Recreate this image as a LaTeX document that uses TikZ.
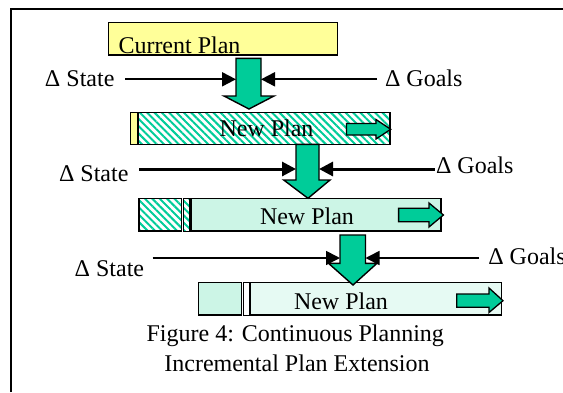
\documentclass[tikz,border=0pt]{standalone}
\usepackage{fontspec}
\setmainfont{Liberation Serif}
\usetikzlibrary{arrows.meta,patterns.meta}
\definecolor{planyellow}{HTML}{FFFF99}
\definecolor{plangreen}{HTML}{00CC99}
\definecolor{mintA}{HTML}{CCF5E6}
\definecolor{mintB}{HTML}{E6FAF3}
\begin{document}
\begin{tikzpicture}[x=1pt,y=-1pt,
  every node/.style={inner sep=0pt,outer sep=0pt},
  lbl/.style={font=\fontsize{24}{28}\selectfont,anchor=base west},
  ctr/.style={font=\fontsize{24}{28}\selectfont,anchor=base},
  planbox/.style={draw=black,line width=1.5pt,rectangle,anchor=north west},
  hatch/.style={pattern={Lines[angle=-45,distance=5.2pt,line width=2pt]},pattern color=plangreen},
  bigarrow/.style={draw=black,line width=1.4pt,fill=plangreen,line join=miter},
  feed/.style={-{Triangle[length=14pt,width=14pt]},line width=2pt},
]
\useasboundingbox (0,0) rectangle (563,392);

% frame
\draw[line width=2pt] (11,392) -- (11,9.3) -- (563,9.3);

% current plan
\node[planbox,fill=planyellow,minimum width=229.1pt,minimum height=32.3pt] (cur) at (108.4,22.7) {};
\node[lbl] (curtxt) at (118.5,53.3) {Current Plan};

% first new plan: yellow stub, then hatched
\fill[planyellow] (130.3,112.7) rectangle (138,144.3);
\fill[hatch] (138,112.7) rectangle (390,144.3);
\node[planbox,minimum width=259.7pt,minimum height=31.6pt] (np1) at (130.3,112.7) {};
\draw[line width=2.5pt] (138,112.7) -- (138,144.3);
\node[ctr] (np1txt) at (266.5,136) {New Plan};
\draw[bigarrow,line width=1.3pt] (346.5,123.5) -- (376,123.5) -- (376,119.5) -- (390.7,129.3) -- (376,139) -- (376,135) -- (346.5,135) -- cycle;

% second new plan
\fill[hatch] (139,198.3) rectangle (181.3,231);
\fill[hatch] (183,198.3) rectangle (189.3,231);
\node[planbox,minimum width=42.3pt,minimum height=32.7pt] (np2a) at (139,198.3) {};
\node[planbox,line width=1pt,minimum width=6.3pt,minimum height=32.7pt] (np2b) at (183,198.3) {};
\node[planbox,fill=mintA,minimum width=250pt,minimum height=32.7pt] (np2) at (191,198.3) {};
\node[ctr] (np2txt) at (307,224) {New Plan};
\draw[bigarrow,line width=1.3pt] (398.6,208.3) -- (429,208.3) -- (429,203) -- (443.4,215) -- (429,227) -- (429,221.7) -- (398.6,221.7) -- cycle;

% third new plan
\node[planbox,fill=mintA,minimum width=42.7pt,minimum height=32.3pt] (np3a) at (198.6,282.7) {};
\node[planbox,fill=white,line width=1pt,minimum width=5.5pt,minimum height=32.3pt] (np3b) at (243.5,282.7) {};
\node[planbox,fill=mintB,minimum width=250.8pt,minimum height=32.3pt] (np3) at (250.7,282.7) {};
\node[ctr] (np3txt) at (341,309) {New Plan};
\draw[bigarrow,line width=1.3pt] (456.7,294) -- (489,294) -- (489,288) -- (503,300.7) -- (489,312.5) -- (489,307.3) -- (456.7,307.3) -- cycle;

% replanning arrows
\draw[bigarrow] (236,58.3) -- (261,58.3) -- (261,96) -- (274,96) -- (249,109) -- (224,96) -- (236,96) -- cycle;
\draw[bigarrow] (296,144.3) -- (319,144.3) -- (319,180) -- (330,180) -- (308,198.3) -- (283.7,180) -- (296,180) -- cycle;
\draw[bigarrow] (340,235) -- (365.5,235) -- (365.5,263.3) -- (377,263.3) -- (353,285) -- (328.5,263.3) -- (340,263.3) -- cycle;

% attachment points on the arrow shafts
\coordinate (a1w) at (236,79.3);  \coordinate (a1e) at (261,79.3);
\coordinate (a2w) at (296,169);   \coordinate (a2e) at (319,169);
\coordinate (a3w) at (340,258);   \coordinate (a3e) at (365.5,258);
\coordinate (s1) at (125,79.3);   \coordinate (g1) at (377,79.3);
\coordinate (s2) at (139,169);    \coordinate (g2) at (434.5,169);
\coordinate (s3) at (152.6,258);  \coordinate (g3) at (479,258);

% state and goal changes
\node[lbl] (st1) at (45,86) {Δ State};
\node[lbl] (go1) at (385,86) {Δ Goals};
\node[lbl] (st2) at (59,181.7) {Δ State};
\node[lbl] (go2) at (436,173.3) {Δ Goals};
\node[lbl] (st3) at (74.7,276.7) {Δ State};
\node[lbl] (go3) at (488.3,264.3) {Δ Goals};

\draw[feed] (s1) -- (a1w);
\draw[feed] (g1) -- (a1e);
\draw[feed,line width=3pt] (s2) -- (a2w);
\draw[feed,line width=3pt] (g2) -- (a2e);
\draw[feed,line width=1.7pt] (s3) -- (a3w);
\draw[feed,line width=1.7pt] (g3) -- (a3e);

% caption
\node[ctr] (cap1) at (295.3,341) {Figure 4: Continuous Planning};
\node[ctr] (cap2) at (297,371.7) {Incremental Plan Extension};
\end{tikzpicture}
\end{document}
